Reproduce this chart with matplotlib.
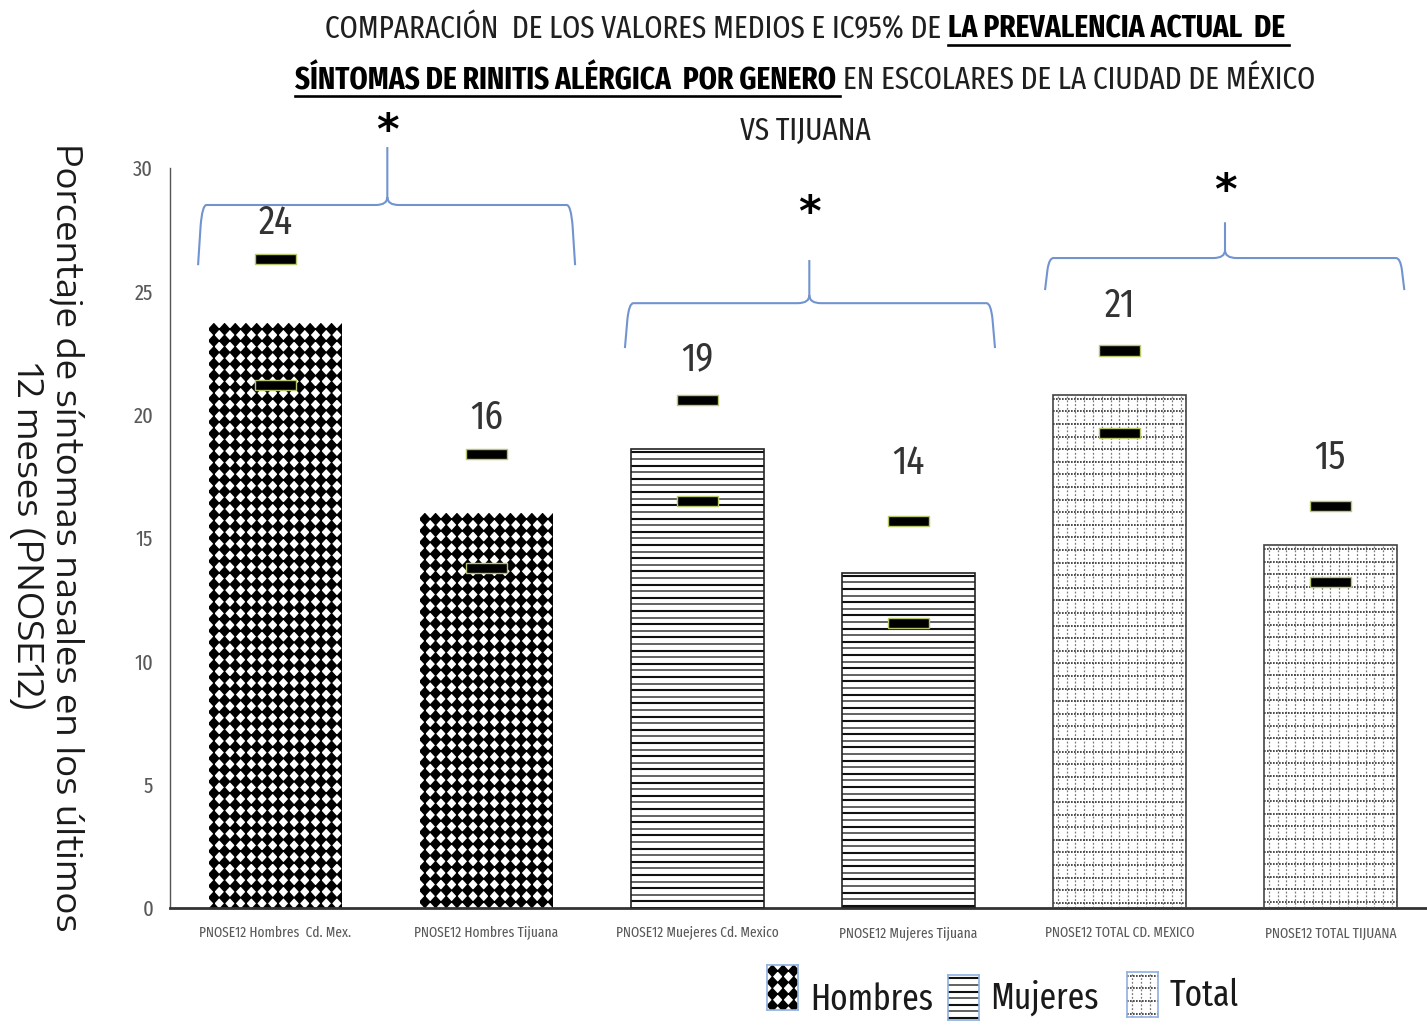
import numpy as np
import matplotlib
matplotlib.use("Agg")
import matplotlib.pyplot as plt
from matplotlib.path import Path
from matplotlib.patches import PathPatch
from matplotlib.lines import Line2D

# ---------------------------------------------------------------- data
categories = [
    "PNOSE12 Hombres  Cd. Mex.",
    "PNOSE12 Hombres Tijuana",
    "PNOSE12 Muejeres Cd. Mexico",
    "PNOSE12 Mujeres Tijuana",
    "PNOSE12 TOTAL CD. MEXICO",
    "PNOSE12 TOTAL TIJUANA",
]
means = [23.7, 16.0, 18.6, 13.6, 20.8, 14.7]
ci_low = [21.2, 13.8, 16.5, 11.55, 19.25, 13.2]
ci_high = [26.3, 18.4, 20.6, 15.7, 22.6, 16.3]
groups = ["Hombres", "Hombres", "Mujeres", "Mujeres", "Total", "Total"]
legend_labels = ["Hombres", "Mujeres", "Total"]
significant_pairs = [(0, 1), (2, 3), (4, 5)]
y_ticks = [0, 5, 10, 15, 20, 25, 30]

title_lines = [
    [("COMPARACIÓN  DE LOS VALORES MEDIOS E IC95% DE", False),
     ("LA PREVALENCIA ACTUAL  DE", True)],
    [("SÍNTOMAS DE RINITIS ALÉRGICA  POR GENERO", True),
     ("EN ESCOLARES DE LA CIUDAD DE MÉXICO", False)],
    [("VS TIJUANA", False)],
]
y_label_lines = ["Porcentaje de síntomas nasales en los últimos", "12 meses (PNOSE12)"]

# ---------------------------------------------------------------- style
W, H = 1427, 1026
NARROW = ["Fira Sans Extra Condensed", "Fira Sans Condensed", "Roboto Condensed", "DejaVu Sans"]
WIDE = ["Encode Sans Expanded", "Encode Sans Semi Expanded", "DejaVu Sans"]
BRACE_BLUE = "#7194d0"
TEXT_GREY = "#595959"
BAR_W = 0.635

# brace geometry per pair: left, right, tip x, arm end y, bar y, tip y, star y
brace_layout = [
    (-0.367, 1.42, 0.53, 26.06, 28.5, 30.85, 31.45),
    (1.656, 3.41, 2.53, 22.7, 24.52, 26.27, 28.13),
    (3.647, 5.35, 4.50, 25.05, 26.35, 27.8, 29.02),
]
# gap (points) between upper CI marker and the value label
label_gap_pt = [26.6, 26.6, 29.5, 41.8, 32.4, 34.6]

fig = plt.figure(figsize=(W / 100, H / 100), dpi=100)
ax = fig.add_axes([170 / W, 118 / H, 1266 / W, 740 / H])
ax.set_xlim(-0.5, 5.5)
ax.set_ylim(0, 30)


# ---------------------------------------------------------------- pattern fills
def px_step(a, dxp, dyp):
    inv = a.transData.inverted()
    p0 = inv.transform((0, 0))
    p1 = inv.transform((dxp, dyp))
    return abs(p1[0] - p0[0]), abs(p1[1] - p0[1])


def fill_diamonds(a, x0, x1, y0, y1, clip=None):
    dx, dy = px_step(a, 10.7, 11.6)
    hx, hy = dx * 0.56, dy * 0.56
    verts, codes = [], []
    ny = int(np.ceil((y1 - y0) / dy)) + 1
    nx = int(np.ceil((x1 - x0) / dx)) + 1
    for j in range(ny):
        cy = y1 - dy * (j + 0.5)
        for i in range(nx):
            cx = x0 + dx * (i + 0.5)
            verts += [(cx - hx, cy), (cx, cy + hy), (cx + hx, cy), (cx, cy - hy), (cx - hx, cy)]
            codes += [Path.MOVETO, Path.LINETO, Path.LINETO, Path.LINETO, Path.CLOSEPOLY]
    p = PathPatch(Path(verts, codes), facecolor="black", edgecolor="none",
                  linewidth=0, zorder=2)
    a.add_patch(p)
    if clip is not None:
        p.set_clip_path(clip)


def fill_lines(a, x0, x1, y0, y1, clip=None):
    _, dy = px_step(a, 0, 6.6)
    ys = np.arange(y1 - dy * 0.5, y0, -dy)
    cols = ["#111111" if k % 2 == 0 else "#474747" for k in range(len(ys))]
    lws = [1.5 if k % 2 == 0 else 1.2 for k in range(len(ys))]
    lc = a.hlines(ys, x0, x1, colors=cols, linewidths=lws, zorder=2)
    if clip is not None:
        lc.set_clip_path(clip)


def fill_grid(a, x0, x1, y0, y1, clip=None):
    dx, dy = px_step(a, 8.8, 12.6)
    ys = np.arange(y1 - dy * 0.3, y0, -dy)
    xs = np.arange(x0 + dx * 0.6, x1, dx)
    v = a.vlines(xs, y0, y1, colors="#7a7a7a", linewidths=0.9,
                 linestyles=(0, (1.5, 1.5)), zorder=2)
    h = a.hlines(ys, x0, x1, colors="#2e2e2e", linewidths=1.2,
                 linestyles=(0, (1, 0.8)), zorder=2)
    if clip is not None:
        h.set_clip_path(clip)
        v.set_clip_path(clip)


FILLS = {"Hombres": fill_diamonds, "Mujeres": fill_lines, "Total": fill_grid}
EDGES = {"Hombres": "none", "Mujeres": "#222222", "Total": "#444444"}

# ---------------------------------------------------------------- bars
x = np.arange(len(categories))
bars = ax.bar(x, means, width=BAR_W, facecolor="none",
              edgecolor=[EDGES[g] for g in groups], linewidth=1.2, zorder=3)
for rect, g in zip(bars, groups):
    x0, w, hgt = rect.get_x(), rect.get_width(), rect.get_height()
    FILLS[g](ax, x0, x0 + w, 0, hgt, clip=rect)

# confidence interval markers
ci_h = 0.41
for vals in (ci_low, ci_high):
    ax.bar(x, [ci_h] * len(vals), bottom=np.array(vals) - ci_h / 2, width=0.195,
           color="black", edgecolor="#b9c66c", linewidth=1.0, zorder=5)

# value labels
for i, (v, hi) in enumerate(zip(means, ci_high)):
    ax.annotate(f"{v:.0f}", (i, hi), xytext=(0, label_gap_pt[i]),
                textcoords="offset points", ha="center", va="center",
                fontsize=29, family=NARROW, color="#333333", zorder=6)


# significance braces
def brace(xl, xr, xc, y_arm, y_bar, y_tip):
    rx, cx = 0.04, 0.055
    ry, cy = 0.35 * (y_bar - y_arm), 0.32
    verts = [
        (xl, y_arm), (xl + 0.012, y_bar - ry),
        (xl + 0.02, y_bar), (xl + rx, y_bar),
        (xc - cx, y_bar),
        (xc, y_bar), (xc, y_bar + cy),
        (xc, y_tip),
        (xc, y_bar + cy),
        (xc, y_bar), (xc + cx, y_bar),
        (xr - rx, y_bar),
        (xr - 0.02, y_bar), (xr - 0.012, y_bar - ry),
        (xr, y_arm),
    ]
    codes = [Path.MOVETO, Path.LINETO,
             Path.CURVE3, Path.CURVE3,
             Path.LINETO,
             Path.CURVE3, Path.CURVE3,
             Path.LINETO,
             Path.MOVETO,
             Path.CURVE3, Path.CURVE3,
             Path.LINETO,
             Path.CURVE3, Path.CURVE3,
             Path.LINETO]
    ax.add_patch(PathPatch(Path(verts, codes), facecolor="none",
                           edgecolor=BRACE_BLUE, linewidth=1.5,
                           clip_on=False, zorder=4))


for pair, (xl, xr, xc, y_arm, y_bar, y_tip, y_star) in zip(significant_pairs, brace_layout):
    brace(xl, xr, xc, y_arm, y_bar, y_tip)
    ax.text(xc, y_star, "*", ha="center", va="center", fontsize=31,
            family=["DejaVu Sans"], fontweight="bold", color="black", clip_on=False)

# axes styling
ax.set_yticks(y_ticks)
ax.set_yticklabels([str(t) for t in y_ticks], family=NARROW, fontsize=16, color=TEXT_GREY)
ax.set_xticks(x)
ax.set_xticklabels(categories, family=NARROW, fontsize=10.5, color=TEXT_GREY)
ax.tick_params(axis="y", length=0, pad=12)
ax.tick_params(axis="x", length=0, pad=13)
for s in ("top", "right"):
    ax.spines[s].set_visible(False)
ax.spines["left"].set_color("#555555")
ax.spines["left"].set_linewidth(1.0)
ax.spines["bottom"].set_color("#333333")
ax.spines["bottom"].set_linewidth(2.0)

# ---------------------------------------------------------------- texts
renderer = fig.canvas.get_renderer()


def text_width(s, size, bold=False, family=NARROW):
    t = fig.text(0, 0, s, fontsize=size, family=family,
                 fontweight="bold" if bold else "normal")
    w = t.get_window_extent(renderer).width
    t.remove()
    return w


# y axis title, reading downward; one text per line
ylab_size = 20 * 790 / text_width(y_label_lines[0], 20, family=WIDE)
for line, xc in zip(y_label_lines, (67, 27)):
    fig.text(xc / W, 1 - 537 / H, line, rotation=-90, ha="center", va="center",
             fontsize=ylab_size, family=WIDE, color="#1a1a1a")


def line_width(segments, size):
    gap = text_width("H H", size) - text_width("HH", size)
    return sum(text_width(s, size, b) for s, b in segments) + gap * (len(segments) - 1), gap


base_size = 20
w0, _ = line_width(title_lines[0], base_size)
title_size = base_size * 960 / w0

baselines = [38, 89, 140]
xc_title = 805
for segs, yb in zip(title_lines, baselines):
    total, gap = line_width(segs, title_size)
    xpos = xc_title - total / 2
    for s, bold in segs:
        w = text_width(s, title_size, bold)
        fig.text(xpos / W, 1 - yb / H, s, fontsize=title_size, family=NARROW,
                 fontweight="bold" if bold else "normal", ha="left", va="baseline",
                 color="black" if bold else "#1f1f1f")
        if bold:
            ul = yb + 7
            fig.add_artist(Line2D([xpos / W, (xpos + w + gap * 0.6) / W],
                                  [1 - ul / H, 1 - ul / H], color="black",
                                  linewidth=1.9, transform=fig.transFigure))
        xpos += w + gap

# ---------------------------------------------------------------- legend
swatches = [(767, 965), (948, 975), (1127, 972)]
label_pos = [(810, 1000), (990, 998), (1170, 996)]
sw_w, sw_h = 31, 45
for lab, (sx, sy), (tx, ty) in zip(legend_labels, swatches, label_pos):
    lax = fig.add_axes([sx / W, 1 - (sy + sw_h) / H, sw_w / W, sw_h / H])
    lax.set_xlim(0, 1)
    lax.set_ylim(0, 1)
    FILLS[lab](lax, 0, 1, 0, 1)
    lax.set_xticks([])
    lax.set_yticks([])
    for sp in lax.spines.values():
        sp.set_color("#8fb0e0")
        sp.set_linewidth(1.2)
    fig.text(tx / W, 1 - ty / H, lab, fontsize=26, family=NARROW,
             ha="left", va="center", color="#1a1a1a")

fig.savefig("out.png", dpi=100)
